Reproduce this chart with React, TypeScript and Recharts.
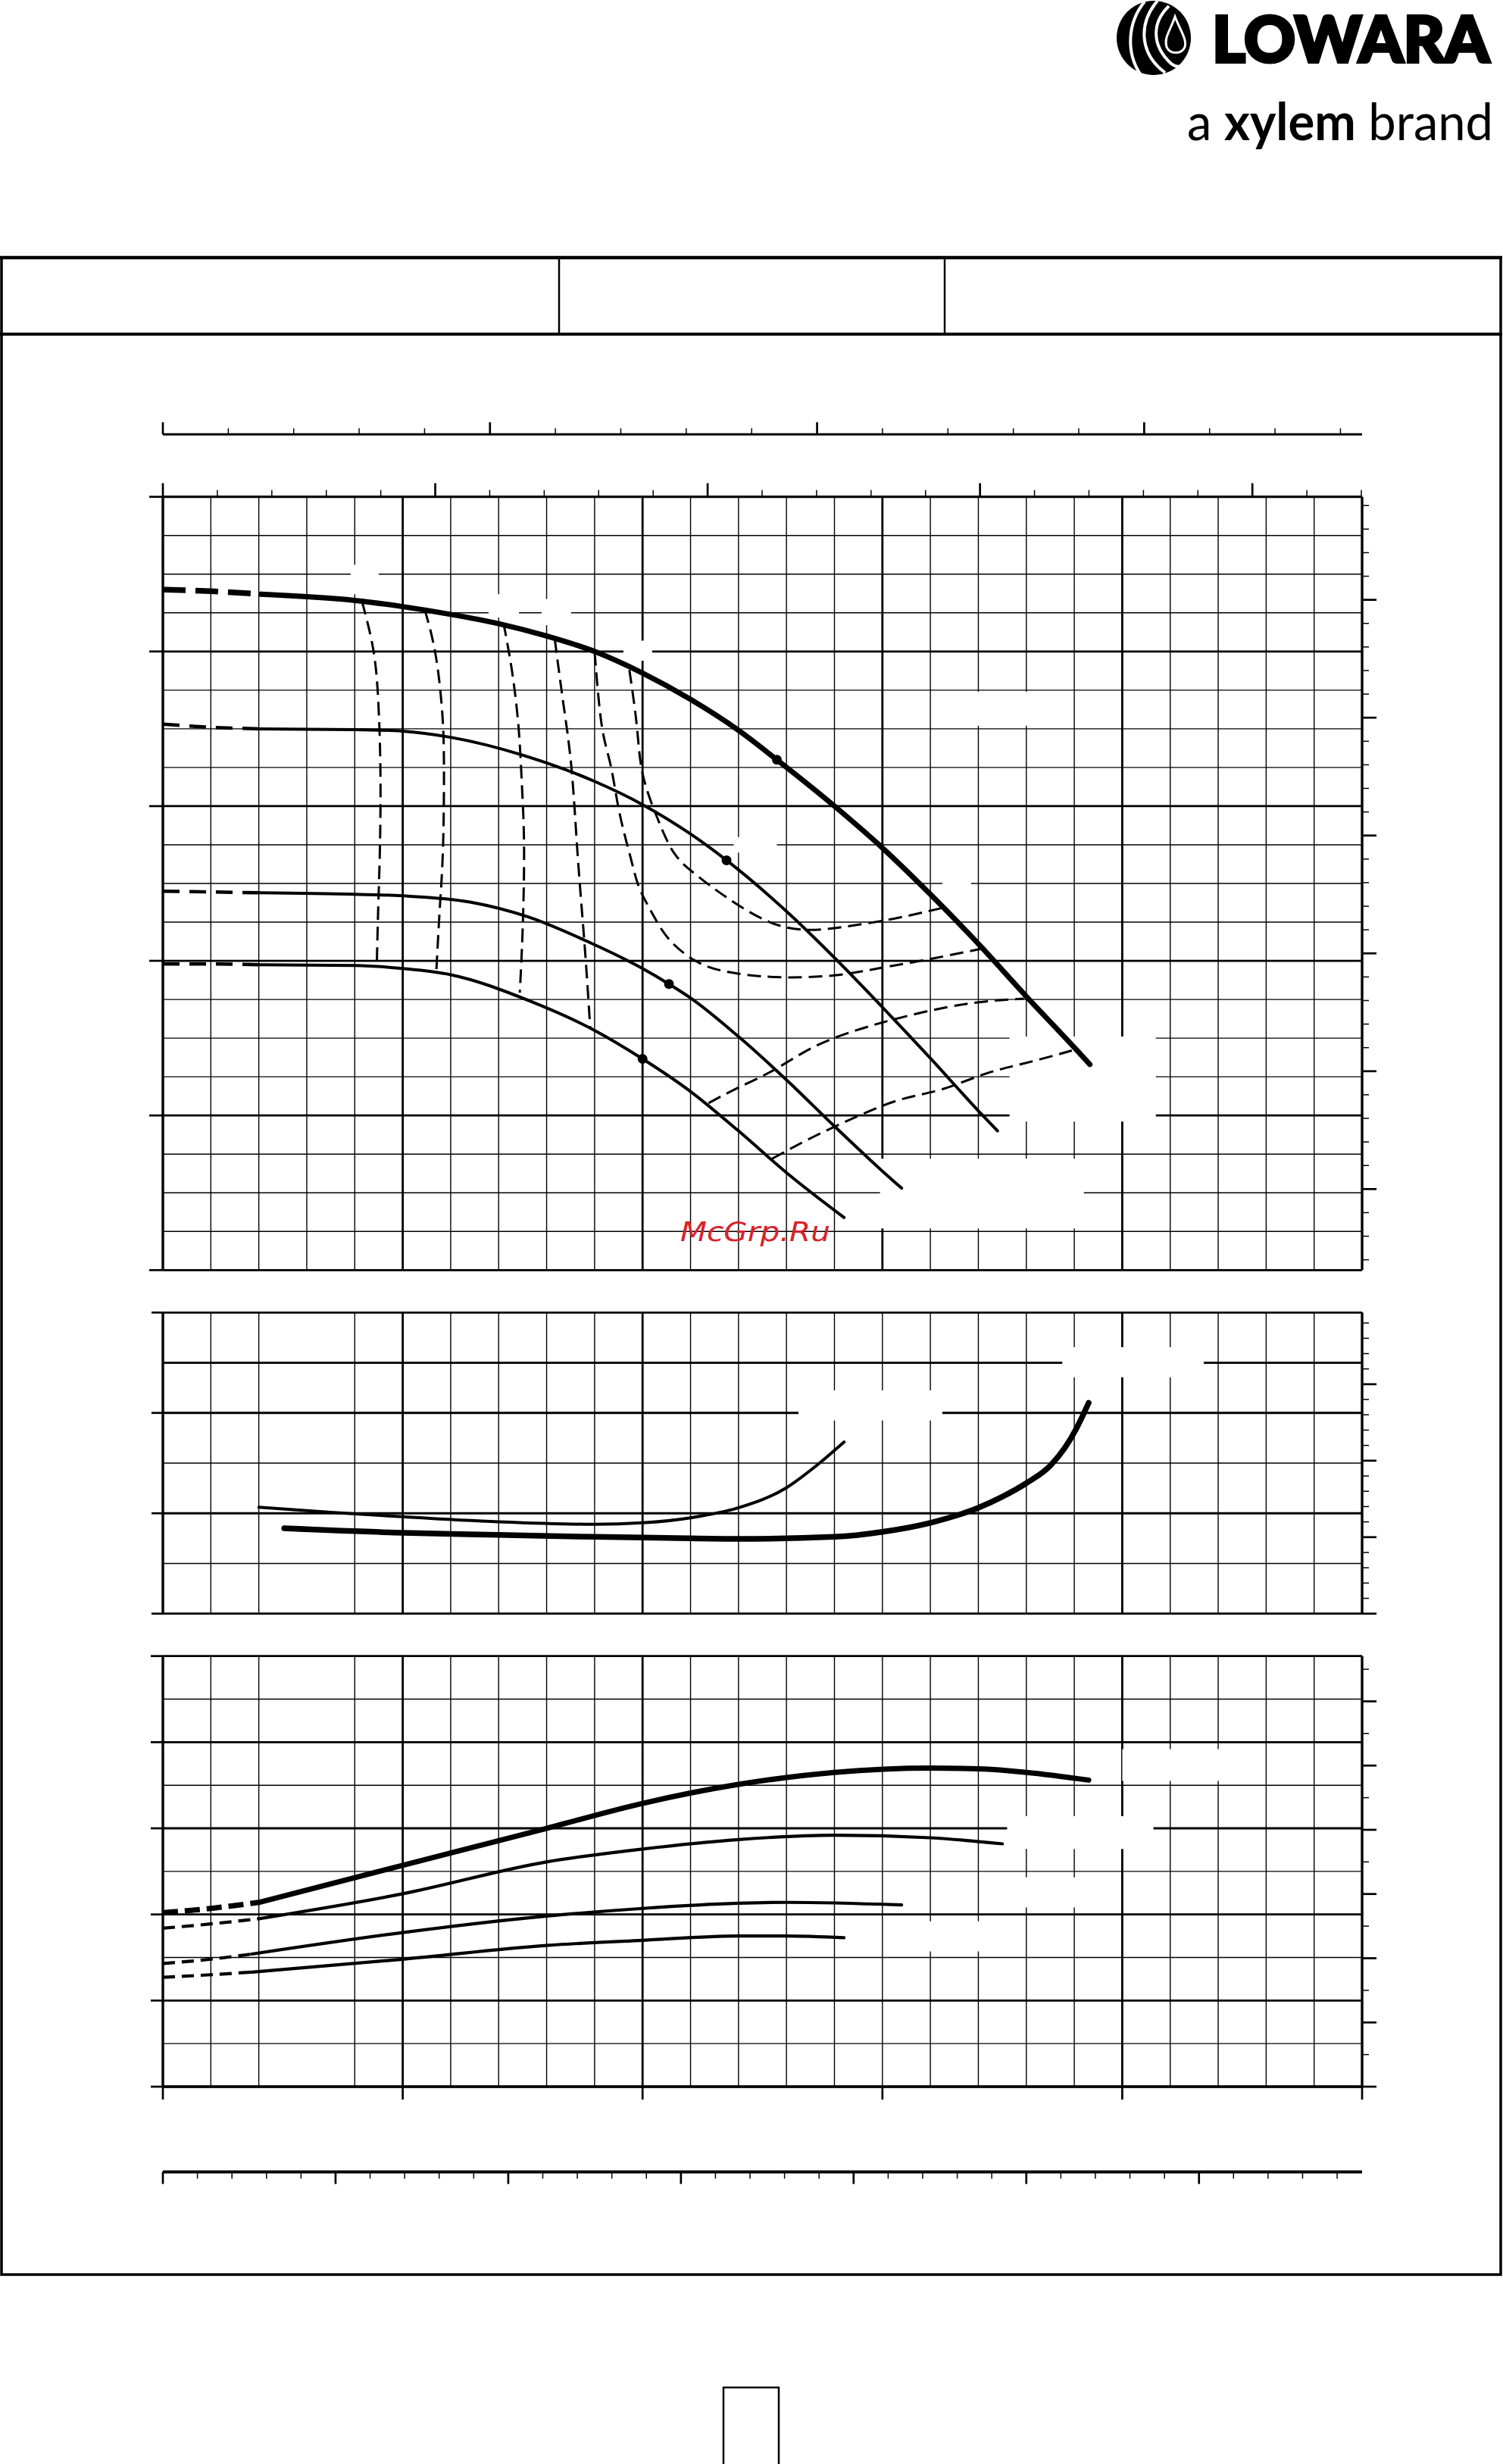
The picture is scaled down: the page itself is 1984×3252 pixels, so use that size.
import React from 'react';
import { ComposedChart, Line, XAxis, YAxis, ReferenceLine, ReferenceArea } from 'recharts';

// flow in m3/h, head in m, NPSH in m, power in kW
const qGridMain = [0, 2, 4, 6, 8, 10, 12, 14, 16, 18, 20, 22, 24, 26, 28, 30, 32, 34, 36, 38, 40, 42, 44, 46, 48, 50];
const qGridLow = [0, 2, 4, 8, 10, 12, 14, 16, 18, 20, 22, 24, 26, 28, 30, 32, 34, 36, 38, 40, 42, 44, 46, 48, 50];
const qMajorMain = [0, 10, 20, 30, 40, 50];
const qMajorLow = [0, 10, 20, 40, 50];

const hGrid = [10, 12.5, 15, 17.5, 20, 22.5, 25, 27.5, 30, 32.5, 35, 37.5, 40, 42.5, 45, 47.5, 50, 52.5, 55, 57.5, 60];
const hMajor = [10, 20, 30, 40, 50, 60];
const nGrid = [0, 1, 2, 3, 4, 5, 6];
const nMajor = [0, 2, 4, 5, 6];
const pGrid = [0, 0.5, 1, 1.5, 2, 2.5, 3, 3.5, 4, 4.5, 5];
const pMajor = [0, 1, 2, 3, 4, 5];

const steps = (from: number, to: number, step: number) => {
  const out: number[] = [];
  for (let i = 0; from + i * step <= to + 1e-9; i++) out.push(Math.round((from + i * step) * 1000) / 1000);
  return out;
};

// secondary scales (labels are blank in the sheet)
const usGpmTicks = steps(0, 220, 10);
const impGpmTicks = steps(0, 180, 10);
const lsTicks = steps(0, 13.6, 0.4);
const ftTicks = steps(35, 195, 5);
const npshFtTicks = steps(0, 19, 1);
const hpTicks = steps(0, 6.5, 0.5);
const hTicks = [10, 20, 30, 40, 50, 60];
const nTicks = [0, 2, 4, 6];
const pTicks = [0, 1, 2, 3, 4, 5];
const qTicks = [0, 10, 20, 30, 40, 50];

// head curves
const head1DashQ = [0, 2, 4.1];
const head1DashH = [54.0, 53.9, 53.7];
const head1Q = [4.1, 8, 10, 12, 14, 16, 18, 20, 22, 24, 25.6, 28, 30, 32, 34, 36, 38, 38.65];
const head1H = [53.7, 53.3, 52.9, 52.4, 51.8, 51.0, 50.0, 48.6, 46.9, 44.9, 43.0, 40.0, 37.3, 34.3, 31.1, 27.7, 24.4, 23.3];
const head2DashQ = [0, 2, 4];
const head2DashH = [45.3, 45.1, 45.0];
const head2Q = [4, 8, 10, 12, 15, 18, 20, 22, 23.5, 26, 28, 30, 32, 34, 34.8];
const head2H = [45.0, 44.95, 44.85, 44.45, 43.3, 41.6, 40.1, 38.2, 36.5, 33.2, 30.2, 27.0, 23.7, 20.3, 19.0];
const head3DashQ = [0, 2, 4];
const head3DashH = [34.5, 34.45, 34.4];
const head3Q = [4, 8, 10, 12.8, 15.3, 17.7, 20, 21.1, 22, 24, 26, 28, 30, 30.8];
const head3H = [34.4, 34.3, 34.2, 33.8, 32.8, 31.25, 29.5, 28.5, 27.6, 25.1, 22.3, 19.3, 16.4, 15.3];
const head4DashQ = [0, 2, 4];
const head4DashH = [29.8, 29.8, 29.75];
const head4Q = [4, 8, 10, 12, 15.3, 18, 20, 22, 24, 26, 28.4];
const head4H = [29.75, 29.7, 29.5, 29.1, 27.4, 25.5, 23.66, 21.55, 19.0, 16.3, 13.4];
const bepQ = [25.6, 23.5, 21.1, 20.0];
const bepH = [43.0, 36.5, 28.5, 23.66];

// iso-efficiency lines
const eff1Q = [8.3, 8.77, 8.98, 9.07, 9.05, 8.98, 8.92];
const eff1H = [53.25, 50.15, 46.8, 42.3, 37.3, 33.5, 29.7];
const eff2Q = [10.92, 11.37, 11.65, 11.72, 11.68, 11.55, 11.4];
const eff2H = [52.7, 49.8, 46.0, 42.3, 37.3, 33.5, 29.3];
const eff3Q = [14.2, 14.55, 14.83, 14.97, 15.06, 15.0, 14.88];
const eff3H = [51.85, 48.8, 45.1, 41.34, 37.3, 32.0, 27.94];
const eff4Q = [16.34, 16.7, 17.04, 17.3, 17.58, 17.82];
const eff4H = [50.8, 46.6, 42.4, 36.7, 31.1, 25.6];
const eff5Q = [18.0, 18.3, 18.67, 19.04, 19.49, 19.85, 20.4, 21.1, 22.2, 23.5, 25.5, 28.0, 30.0, 31.6, 34.2];
const eff5H = [49.97, 45.2, 42.64, 39.55, 36.74, 34.77, 33.08, 31.4, 30.0, 29.3, 28.95, 29.06, 29.56, 30.0, 30.8];
const eff6Q = [19.45, 19.76, 20.0, 20.6, 21.3, 22.2, 23.5, 25.3, 26.9, 28.4, 30.4, 32.45];
const eff6H = [48.8, 45.2, 42.1, 39.3, 37.0, 35.6, 34.1, 32.5, 32.0, 32.2, 32.7, 33.4];
const eff7Q = [22.75, 24, 25.5, 27.1, 28.9, 30.7, 32.7, 34.5, 35.9];
const eff7H = [20.8, 21.8, 22.96, 24.4, 25.5, 26.3, 27.0, 27.4, 27.55];
const eff8Q = [25.4, 27.1, 28.9, 30.7, 32.5, 34.3, 36.0, 37.9];
const eff8H = [17.2, 18.6, 19.9, 21.0, 21.7, 22.7, 23.4, 24.2];

// NPSH curves
const npsh1Q = [4, 7, 10, 14, 18, 20, 22, 24, 26, 27.3, 28.4];
const npsh1N = [2.12, 2.02, 1.93, 1.83, 1.78, 1.81, 1.91, 2.11, 2.51, 2.97, 3.42];
const npsh2Q = [5.06, 10, 14, 18, 21, 24, 28, 30, 32, 34, 35, 36, 37, 37.6, 38.1, 38.6];
const npsh2N = [1.7, 1.61, 1.57, 1.53, 1.51, 1.49, 1.53, 1.63, 1.81, 2.11, 2.33, 2.6, 2.95, 3.3, 3.7, 4.2];

// power curves
const pow1DashQ = [0, 2, 4];
const pow1DashP = [2.02, 2.07, 2.14];
const pow1Q = [4, 10, 16, 20, 24, 28, 32, 34, 36, 38.6];
const pow1P = [2.14, 2.57, 3.0, 3.29, 3.51, 3.65, 3.7, 3.69, 3.65, 3.56];
const pow2DashQ = [0, 2, 4];
const pow2DashP = [1.84, 1.89, 1.95];
const pow2Q = [4, 10, 16, 20, 24, 28, 32, 35];
const pow2P = [1.95, 2.24, 2.61, 2.76, 2.87, 2.92, 2.89, 2.82];
const pow3DashQ = [0, 2, 3.7];
const pow3DashP = [1.43, 1.48, 1.54];
const pow3Q = [3.7, 10, 16, 20, 24, 26, 30.8];
const pow3P = [1.54, 1.79, 1.98, 2.07, 2.13, 2.14, 2.11];
const pow4DashQ = [0, 2, 3.7];
const pow4DashP = [1.27, 1.3, 1.33];
const pow4Q = [3.7, 10, 16, 20, 24, 26, 28.4];
const pow4P = [1.33, 1.48, 1.64, 1.7, 1.75, 1.75, 1.73];

// blanked label areas [q1, q2, v1, v2]
const headBlanks = [
  [7.83, 9.0, 53.7, 55.6], [13.58, 14.85, 52.2, 53.7], [15.79, 17.02, 51.7, 53.4], [19.2, 20.4, 49.4, 50.7],
  [33.5, 36.1, 45.2, 47.4], [23.8, 25.6, 37.0, 38.0], [32.5, 33.7, 34.3, 35.8], [35.3, 41.4, 19.6, 25.1],
  [29.9, 38.4, 12.7, 17.2],
];
const npshBlanks = [[26.5, 32.5, 3.85, 4.45], [37.5, 43.4, 4.71, 5.31]];
const powerBlanks = [[40.0, 44.1, 3.55, 3.92], [35.2, 41.3, 2.76, 3.14], [34.1, 38.1, 2.08, 2.43], [30.1, 34.1, 1.57, 1.92]];

const pts = (qs: number[], vs: number[]) => qs.map((q, i) => ({ q, v: vs[i] }));

const INK = '#000';

const mark = (side: 'top' | 'bottom' | 'left' | 'right', isMajor: (v: number) => boolean, majorLen: number, minorLen: number) =>
  (props: any) => {
    const { x, y, payload } = props;
    const major = isMajor(payload.value);
    const len = major ? majorLen : minorLen;
    let x2 = x;
    let y2 = y;
    if (side === 'top') y2 = y - len;
    if (side === 'bottom') y2 = y + len;
    if (side === 'left') x2 = x - len;
    if (side === 'right') x2 = x + len;
    return <line x1={x} y1={y} x2={x2} y2={y2} stroke={INK} strokeWidth={major ? 2.7 : 1.5} />;
  };

const near = (v: number, m: number) => Math.abs(v / m - Math.round(v / m)) < 1e-6;

const axisBase = {
  type: 'number' as const,
  allowDataOverflow: true,
  tickSize: 0,
  tickMargin: 0,
  tickLine: false,
  interval: 0 as const,
  axisLine: { stroke: INK, strokeWidth: 3 },
};

const MARGIN_LR = { left: 175, right: 146 };

const gridLines = (xId: string, yId: string, xs: number[], xMajor: number[], ys: number[], yMajor: number[]) => [
  ...xs.map((v) => (
    <ReferenceLine key={`x${v}`} x={v} xAxisId={xId} yAxisId={yId} stroke={INK} zIndex={-100}
      strokeWidth={xMajor.includes(v) ? 2.8 : 1.4} />
  )),
  ...ys.map((v) => (
    <ReferenceLine key={`y${v}`} y={v} xAxisId={xId} yAxisId={yId} stroke={INK} zIndex={-100}
      strokeWidth={yMajor.includes(v) ? 2.8 : 1.4} />
  )),
];

const blanks = (xId: string, yId: string, boxes: number[][]) =>
  boxes.map((b, i) => (
    <ReferenceArea key={`b${i}`} x1={b[0]} x2={b[1]} y1={b[2]} y2={b[3]} xAxisId={xId} yAxisId={yId}
      fill="#fff" fillOpacity={1} stroke="none" zIndex={-90} />
  ));

const curve = (key: string, xId: string, yId: string, data: { q: number; v: number }[], width: number, dash?: string, type: any = 'monotone') => (
  <Line key={key} data={data} dataKey="v" xAxisId={xId} yAxisId={yId} type={type} stroke={INK}
    strokeWidth={width} strokeDasharray={dash} strokeLinecap={dash ? 'butt' : 'round'}
    dot={false} activeDot={false} isAnimationActive={false} />
);

// invisible series so a unit-only axis gets a data domain
const carrier = (xId: string, yId: string, key: string, ticks: number[], yVal: number) => (
  <Line data={ticks.map((t) => ({ [key]: t, v: yVal }))} dataKey="v" xAxisId={xId} yAxisId={yId}
    stroke="none" dot={false} activeDot={false} isAnimationActive={false} />
);

const MainChart = () => (
  <ComposedChart width={1984} height={1250} margin={{ top: 43.3, bottom: 73.7, ...MARGIN_LR }}>
    <XAxis xAxisId="q" dataKey="q" type="number" domain={[0, 50]} allowDataOverflow hide />
    <XAxis xAxisId="b_imp" dataKey="imp" orientation="top" domain={[0, 183.31]} ticks={impGpmTicks} height={30}
      tick={mark('top', (v) => near(v, 50), 16, 8)} {...axisBase} />
    <XAxis xAxisId="a_us" dataKey="us" orientation="top" domain={[0, 220.14]} ticks={usGpmTicks} height={82.4}
      tick={mark('top', (v) => near(v, 50), 18, 9)} {...axisBase} />
    <YAxis yAxisId="h" domain={[10, 60]} ticks={hTicks} width={40}
      tick={mark('left', () => true, 18, 18)} {...axisBase} />
    <YAxis yAxisId="ft" orientation="right" domain={[32.808, 196.85]} ticks={ftTicks} width={40}
      tick={mark('right', (v) => near(v, 25), 19, 9)} {...axisBase} />
    {gridLines('q', 'h', qGridMain, qMajorMain, hGrid, hMajor)}
    {blanks('q', 'h', headBlanks)}
    {carrier('b_imp', 'h', 'imp', impGpmTicks, 60)}
    {carrier('a_us', 'h', 'us', usGpmTicks, 60)}
    {curve('e1', 'q', 'h', pts(eff1Q, eff1H), 3, '18 9', 'natural')}
    {curve('e2', 'q', 'h', pts(eff2Q, eff2H), 3, '18 9', 'natural')}
    {curve('e3', 'q', 'h', pts(eff3Q, eff3H), 3, '18 9', 'natural')}
    {curve('e4', 'q', 'h', pts(eff4Q, eff4H), 3, '18 9', 'natural')}
    {curve('e5', 'q', 'h', pts(eff5Q, eff5H), 3, '18 9', 'natural')}
    {curve('e6', 'q', 'h', pts(eff6Q, eff6H), 3, '18 9', 'natural')}
    {curve('e7', 'q', 'h', pts(eff7Q, eff7H), 3, '18 9', 'natural')}
    {curve('e8', 'q', 'h', pts(eff8Q, eff8H), 3, '18 9', 'natural')}
    {curve('h1d', 'q', 'h', pts(head1DashQ, head1DashH), 7.5, '30 13')}
    {curve('h1', 'q', 'h', pts(head1Q, head1H), 7)}
    {curve('h2d', 'q', 'h', pts(head2DashQ, head2DashH), 4.5, '22 13')}
    {curve('h2', 'q', 'h', pts(head2Q, head2H), 4)}
    {curve('h3d', 'q', 'h', pts(head3DashQ, head3DashH), 4.5, '22 13')}
    {curve('h3', 'q', 'h', pts(head3Q, head3H), 4)}
    {curve('h4d', 'q', 'h', pts(head4DashQ, head4DashH), 4.5, '22 13')}
    {curve('h4', 'q', 'h', pts(head4Q, head4H), 4)}
    <Line data={pts(bepQ, bepH)} dataKey="v" xAxisId="q" yAxisId="h" stroke="none"
      dot={{ r: 6.5, fill: INK, stroke: 'none' }} activeDot={false} isAnimationActive={false} />
  </ComposedChart>
);

const NpshChart = () => (
  <ComposedChart width={1984} height={460} margin={{ top: 32.3, bottom: 30.3, ...MARGIN_LR }}>
    <XAxis xAxisId="q" dataKey="q" type="number" domain={[0, 50]} allowDataOverflow hide />
    <YAxis yAxisId="n" domain={[0, 6]} ticks={nTicks} width={40}
      tick={mark('left', () => true, 15, 15)} {...axisBase} />
    <YAxis yAxisId="nft" orientation="right" domain={[0, 19.685]} ticks={npshFtTicks} width={40}
      tick={mark('right', (v) => near(v, 5), 19, 9)} {...axisBase} />
    {gridLines('q', 'n', qGridLow, qMajorLow, nGrid, nMajor)}
    {blanks('q', 'n', npshBlanks)}
    {curve('n1', 'q', 'n', pts(npsh1Q, npsh1N), 4)}
    {curve('n2', 'q', 'n', pts(npsh2Q, npsh2N), 7.5)}
  </ComposedChart>
);

const PowerChart = () => (
  <ComposedChart width={1984} height={780} margin={{ top: 25.7, bottom: 33.6, ...MARGIN_LR }}>
    <XAxis xAxisId="b_ls" dataKey="ls" domain={[0, 13.889]} ticks={lsTicks} height={40}
      tick={mark('bottom', (v) => near(v, 2), 16, 9)} {...axisBase} axisLine={{ stroke: INK, strokeWidth: 4 }} />
    <XAxis xAxisId="a_q" dataKey="q" domain={[0, 50]} ticks={qTicks} height={112.4}
      tick={mark('bottom', () => true, 17, 17)} {...axisBase} axisLine={{ stroke: INK, strokeWidth: 3.5 }} />
    <YAxis yAxisId="p" domain={[0, 5]} ticks={pTicks} width={40}
      tick={mark('left', () => true, 16, 16)} {...axisBase} />
    <YAxis yAxisId="hp" orientation="right" domain={[0, 6.705]} ticks={hpTicks} width={40}
      tick={mark('right', (v) => near(v, 1), 19, 9)} {...axisBase} />
    {gridLines('a_q', 'p', qGridLow, qMajorLow, pGrid, pMajor)}
    {blanks('a_q', 'p', powerBlanks)}
    {carrier('b_ls', 'p', 'ls', lsTicks, 0)}
    {curve('p1d', 'a_q', 'p', pts(pow1DashQ, pow1DashP), 7, '20 9')}
    {curve('p1', 'a_q', 'p', pts(pow1Q, pow1P), 7)}
    {curve('p2d', 'a_q', 'p', pts(pow2DashQ, pow2DashP), 4.2, '16 9')}
    {curve('p2', 'a_q', 'p', pts(pow2Q, pow2P), 4.2)}
    {curve('p3d', 'a_q', 'p', pts(pow3DashQ, pow3DashP), 4.2, '16 9')}
    {curve('p3', 'a_q', 'p', pts(pow3Q, pow3P), 4.2)}
    {curve('p4d', 'a_q', 'p', pts(pow4DashQ, pow4DashP), 4.2, '16 9')}
    {curve('p4', 'a_q', 'p', pts(pow4Q, pow4P), 4.2)}
  </ComposedChart>
);

const Sheet = () => (
  <svg width={1984} height={3252} style={{ position: 'absolute', left: 0, top: 0 }}>
    {/* logo mark */}
    <g>
      <circle cx={1523} cy={50} r={49} fill={INK} />
      <path d="M1511 2 C1488 30 1486 70 1506 99" stroke="#fff" strokeWidth={4} fill="none" />
      <path d="M1528 1 C1503 30 1503 70 1538 96" stroke="#fff" strokeWidth={4} fill="none" />
      <path d="M1543 8 C1522 28 1518 58 1546 84 C1556 92 1568 86 1571 74" stroke="#fff" strokeWidth={4} fill="none" />
      <path d="M1551 22 C1545 40 1536 50 1540 62 C1544 72 1560 72 1564 62 C1567 52 1558 40 1551 22 Z" stroke="#fff" strokeWidth={3} fill={INK} />
    </g>
    <text x={1600} y={82} fontFamily="Lato" fontWeight={900} fontSize={84} textLength={366}
      lengthAdjust="spacingAndGlyphs" fill={INK} stroke={INK} strokeWidth={4}>LOWARA</text>
    <text x={1567} y={185} fontFamily="Lato" fontSize={68} textLength={404} lengthAdjust="spacingAndGlyphs" fill={INK}>
      <tspan>a </tspan>
      <tspan fontWeight={700}>xylem</tspan>
      <tspan> brand</tspan>
    </text>
    {/* page frame and title block */}
    <rect x={2} y={340} width={1979} height={2662} fill="none" stroke={INK} strokeWidth={3.5} />
    <line x1={0} y1={340} x2={1983} y2={340} stroke={INK} strokeWidth={4.5} />
    <line x1={0} y1={441} x2={1983} y2={441} stroke={INK} strokeWidth={4} />
    <line x1={738} y1={340} x2={738} y2={441} stroke={INK} strokeWidth={2.5} />
    <line x1={1247} y1={340} x2={1247} y2={441} stroke={INK} strokeWidth={2.5} />
    <rect x={955} y={3151} width={73} height={120} fill="none" stroke={INK} strokeWidth={2.5} />
  </svg>
);

export default function App() {
  return (
    <div style={{ position: 'relative', width: 1984, height: 3252, background: '#fff', overflow: 'hidden' }}>
      <style>{'body{margin:0}'}</style>
      <Sheet />
      <div style={{ position: 'absolute', left: 0, top: 500 }}>
        <MainChart />
      </div>
      <div style={{ position: 'absolute', left: 0, top: 1700 }}>
        <NpshChart />
      </div>
      <div style={{ position: 'absolute', left: 0, top: 2160 }}>
        <PowerChart />
      </div>
      <svg width={1984} height={3252} style={{ position: 'absolute', left: 0, top: 0, pointerEvents: 'none' }}>
        <text x={898} y={1638} fontFamily="DejaVu Sans" fontStyle="oblique" fontSize={35} fill="#d8222a"
          textLength={198} lengthAdjust="spacingAndGlyphs">McGrp.Ru</text>
      </svg>
    </div>
  );
}
